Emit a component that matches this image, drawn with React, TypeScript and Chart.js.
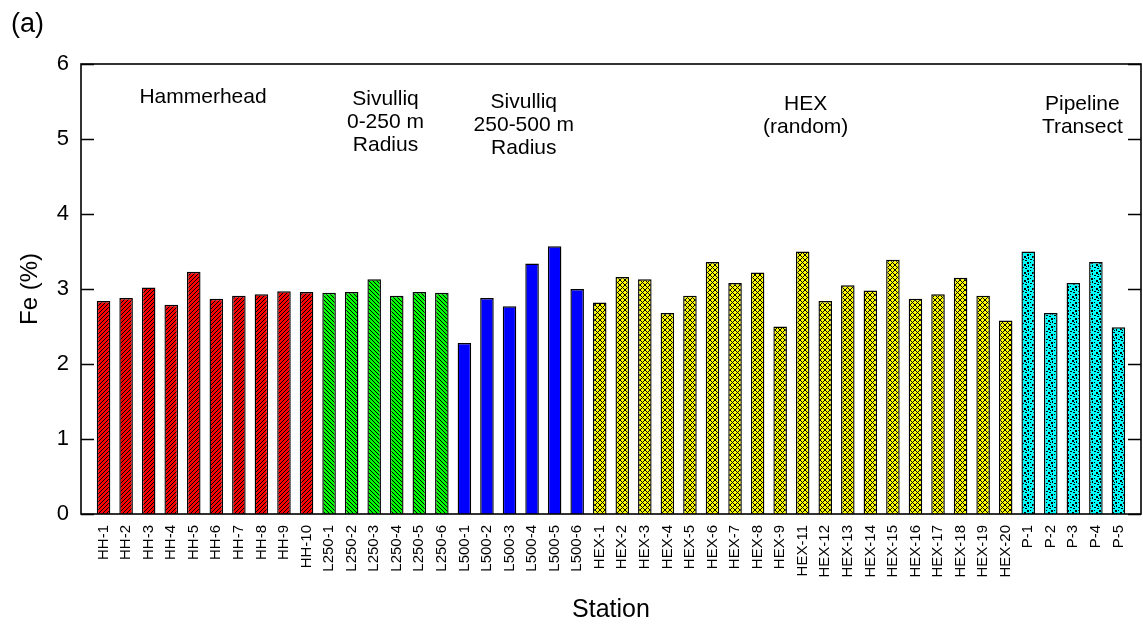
import React, { useEffect, useRef } from "react";
import { Chart, registerables } from "chart.js";

Chart.register(...registerables);

// Station names and Fe concentrations (%) by sampling area
const hhStations = ["HH-1", "HH-2", "HH-3", "HH-4", "HH-5", "HH-6", "HH-7", "HH-8", "HH-9", "HH-10"];
const hhFe = [2.84, 2.88, 3.02, 2.79, 3.23, 2.87, 2.91, 2.93, 2.97, 2.96];

const l250Stations = ["L250-1", "L250-2", "L250-3", "L250-4", "L250-5", "L250-6"];
const l250Fe = [2.95, 2.96, 3.13, 2.91, 2.96, 2.95];

const l500Stations = ["L500-1", "L500-2", "L500-3", "L500-4", "L500-5", "L500-6"];
const l500Fe = [2.28, 2.88, 2.77, 3.34, 3.57, 3.0];

const hexStations = [
  "HEX-1", "HEX-2", "HEX-3", "HEX-4", "HEX-5", "HEX-6", "HEX-7", "HEX-8", "HEX-9",
  "HEX-11", "HEX-12", "HEX-13", "HEX-14", "HEX-15", "HEX-16", "HEX-17", "HEX-18", "HEX-19", "HEX-20",
];
const hexFe = [2.82, 3.16, 3.13, 2.68, 2.91, 3.36, 3.08, 3.22, 2.5, 3.5, 2.84, 3.05, 2.98, 3.39, 2.87, 2.93, 3.15, 2.91, 2.58];

const pStations = ["P-1", "P-2", "P-3", "P-4", "P-5"];
const pFe = [3.5, 2.68, 3.08, 3.36, 2.49];

const groupCaptions = [
  ["Hammerhead"],
  ["Sivulliq", "0-250 m", "Radius"],
  ["Sivulliq", "250-500 m", "Radius"],
  ["HEX", "(random)"],
  ["Pipeline", "Transect"],
];

const yTickValues = [0, 1, 2, 3, 4, 5, 6];

// Appearance of each group: fill kind, caption placement
const groupFills = ["hatchUp", "hatchDown", "solidBlue", "crossYellow", "dotsCyan"];
const captionTopPx = [97, 99, 102, 104, 104];
const captionShiftPx = [-2, 0, 3, 3, 9];

const FONT = "'Liberation Sans', Arial, Helvetica, sans-serif";

function makeFill(kind: string): CanvasPattern | string {
  if (kind === "solidBlue") return "#0000ff";
  const size = kind === "dotsCyan" ? 8 : kind === "crossYellow" ? 5 : 4;
  const c = document.createElement("canvas");
  c.width = size;
  c.height = size;
  const ctx = c.getContext("2d")!;
  const bg =
    kind === "hatchUp" ? "#ff0000" : kind === "hatchDown" ? "#00ff00" : kind === "crossYellow" ? "#ffff00" : "#00ffff";
  ctx.fillStyle = bg;
  ctx.fillRect(0, 0, size, size);
  ctx.fillStyle = "#000000";
  if (kind === "dotsCyan") {
    const dots = [
      [0, 0, 2, 2], [4, 1, 1, 2], [6, 3, 2, 1], [1, 4, 2, 1], [3, 6, 2, 2], [6, 6, 1, 1], [2, 2, 1, 1],
    ];
    dots.forEach(([x, y, w, h]) => ctx.fillRect(x, y, w, h));
  } else {
    for (let x = 0; x < size; x++) {
      for (let y = 0; y < size; y++) {
        const up = (x + y) % size === size - 1;
        const down = (((x - y) % size) + size) % size === 0;
        if ((kind === "hatchUp" && up) || (kind === "hatchDown" && down) || (kind === "crossYellow" && (up || down))) {
          ctx.fillRect(x, y, 1, 1);
        }
      }
    }
  }
  return ctx.createPattern(c, "repeat")!;
}

export default function App() {
  const canvasRef = useRef<HTMLCanvasElement | null>(null);

  useEffect(() => {
    document.body.style.margin = "0";
    const canvas = canvasRef.current;
    if (!canvas) return;

    const groups = [
      { stations: hhStations, values: hhFe },
      { stations: l250Stations, values: l250Fe },
      { stations: l500Stations, values: l500Fe },
      { stations: hexStations, values: hexFe },
      { stations: pStations, values: pFe },
    ];

    // One empty slot at each end gives the margin around the bars
    const labels: string[] = [""];
    const data: (number | null)[] = [null];
    const fills: (CanvasPattern | string)[] = ["#ffffff"];
    const groupRanges: [number, number][] = [];
    groups.forEach((g, gi) => {
      const fill = makeFill(groupFills[gi]);
      const start = labels.length;
      g.stations.forEach((s, i) => {
        labels.push(s);
        data.push(g.values[i]);
        fills.push(fill);
      });
      groupRanges.push([start, labels.length - 1]);
    });
    labels.push("");
    data.push(null);
    fills.push("#ffffff");

    const framePlugin = {
      id: "frameAndCaptions",
      afterDraw(chart: any) {
        const { ctx, chartArea } = chart;
        const x = chart.scales.x;
        const y = chart.scales.y;
        ctx.save();
        ctx.strokeStyle = "#000";
        ctx.lineWidth = 1.6;
        ctx.strokeRect(chartArea.left, chartArea.top, chartArea.right - chartArea.left, chartArea.bottom - chartArea.top);
        // inward ticks on both vertical sides
        ctx.lineWidth = 1.3;
        yTickValues.forEach((v) => {
          const py = Math.round(y.getPixelForValue(v)) + 0.5;
          ctx.beginPath();
          ctx.moveTo(chartArea.left, py);
          ctx.lineTo(chartArea.left + 13, py);
          ctx.moveTo(chartArea.right, py);
          ctx.lineTo(chartArea.right - 13, py);
          ctx.stroke();
        });
        // group captions
        ctx.fillStyle = "#000";
        ctx.font = `21px ${FONT}`;
        ctx.textAlign = "center";
        ctx.textBaseline = "middle";
        groupCaptions.forEach((lines, gi) => {
          const [a, b] = groupRanges[gi];
          const cx = (x.getPixelForValue(a) + x.getPixelForValue(b)) / 2 + captionShiftPx[gi];
          lines.forEach((line, li) => {
            ctx.fillText(line, cx, captionTopPx[gi] + li * 23);
          });
        });
        // panel letter
        ctx.font = `27px ${FONT}`;
        ctx.textAlign = "left";
        ctx.fillText("(a)", 11, 25);
        ctx.restore();
      },
    };

    const chart = new Chart(canvas, {
      type: "bar",
      data: {
        labels,
        datasets: [
          {
            data,
            backgroundColor: fills as any,
            borderColor: "#000",
            borderWidth: 1.4,
            categoryPercentage: 1,
            barPercentage: 0.6,
          },
        ],
      },
      options: {
        animation: false,
        responsive: false,
        devicePixelRatio: 1,
        layout: { padding: { top: 64, right: 2, left: 0, bottom: 0 } },
        plugins: {
          legend: { display: false },
          tooltip: { enabled: false },
        },
        scales: {
          x: {
            offset: false,
            grid: { display: false, drawTicks: false },
            border: { display: false },
            ticks: {
              autoSkip: false,
              minRotation: 90,
              maxRotation: 90,
              padding: 11,
              color: "#000",
              font: { family: FONT, size: 15 },
            },
            title: {
              display: true,
              text: "Station",
              color: "#000",
              font: { family: FONT, size: 25 },
              padding: { top: 0, bottom: 3 },
            },
            afterFit(scale: any) {
              scale.height = 114;
              scale.paddingLeft = 0;
              scale.paddingRight = 0;
            },
          },
          y: {
            min: 0,
            max: 6,
            grid: { display: false, drawTicks: false },
            border: { display: false },
            ticks: {
              stepSize: 1,
              padding: 12,
              color: "#000",
              font: { family: FONT, size: 22 },
            },
            title: {
              display: true,
              text: "Fe (%)",
              color: "#000",
              font: { family: FONT, size: 24 },
              padding: { top: 16, bottom: 0 },
            },
            afterFit(scale: any) {
              scale.width = 81;
              scale.paddingTop = 0;
              scale.paddingBottom = 0;
            },
          },
        },
      },
      plugins: [framePlugin],
    });

    return () => chart.destroy();
  }, []);

  return (
    <div style={{ width: 1143, height: 628, background: "#fff" }}>
      <canvas ref={canvasRef} width={1143} height={628} style={{ display: "block" }} />
    </div>
  );
}
